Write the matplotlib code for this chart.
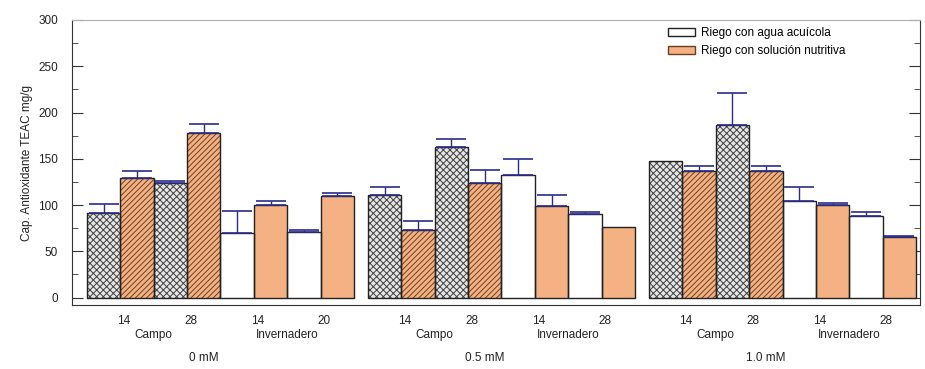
import matplotlib
matplotlib.use("Agg")
import matplotlib.pyplot as plt
from matplotlib.patches import Patch
from matplotlib.ticker import MultipleLocator
import numpy as np

plt.rcParams['font.family'] = ['Liberation Sans', 'DejaVu Sans']
plt.rcParams['hatch.linewidth'] = 0.7

concentrations = ["0 mM", "0.5 mM", "1.0 mM"]
sites = ["Campo", "Invernadero"]
day_labels = [["14", "28", "14", "20"], ["14", "28", "14", "28"], ["14", "28", "14", "28"]]

# per concentration: [Campo14 agua, Campo14 sol, Campo28 agua, Campo28 sol, Inv14 agua, Inv14 sol, Inv2x agua, Inv2x sol]
values = [
    [91, 129, 124, 178, 70, 100, 71, 110],
    [111, 73, 163, 124, 133, 99, 90, 76],
    [148, 137, 187, 137, 104, 100, 88, 66],
]
errors = [
    [10, 8, 2, 10, 24, 4, 2, 3],
    [8, 10, 8, 14, 17, 12, 3, 0],
    [0, 5, 34, 5, 15, 2, 4, 1],
]
y_ticks = [0, 50, 100, 150, 200, 250, 300]
y_label = "Cap. Antioxidante TEAC mg/g"
legend_labels = ["Riego con agua acuícola", "Riego con solución nutritiva"]

orange = "#F4B183"
hatch_orange = "#6b4022"
gray_face = "#e6e6e6"
hatch_gray = "#404040"
err_color = "#2b2b8c"

fig = plt.figure(figsize=(9.25, 3.69), dpi=100)
ax = fig.add_axes([0.0778, 0.1734, 0.9946 - 0.0778, 0.9458 - 0.1734])

gap = 8.42
for g, (vals, errs) in enumerate(zip(values, errors)):
    off = g * gap
    for i, (v, e) in enumerate(zip(vals, errs)):
        x = off + i
        campo = i < 4
        agua = i % 2 == 0
        if campo:
            face = gray_face if agua else orange
            hcol = hatch_gray if agua else hatch_orange
            hatch = "xxxxx" if agua else "//////"
        else:
            face = "white" if agua else orange
            hcol = None
            hatch = None
        ax.bar(x, v, width=1.0, color=face, edgecolor="none", linewidth=0, zorder=2)
        if hatch:
            ax.bar(x, v, width=1.0, color="none", edgecolor=hcol, linewidth=0, hatch=hatch, zorder=3)
        ax.bar(x, v, width=1.0, color="none", edgecolor="#222222", linewidth=1.0, zorder=4)
        if e > 0:
            ax.errorbar(x, v, yerr=[[0], [e]], fmt="none", ecolor=err_color,
                        elinewidth=1.0, capsize=11, capthick=1.2, zorder=5)
    for j, lab in enumerate(day_labels[g]):
        ax.text(off + 0.5 + 2 * j + 0.1, -0.055, lab, transform=ax.get_xaxis_transform(),
                ha="center", va="center", fontsize=8.5, color="#222222")
    ax.text(off + 1.5, -0.105, sites[0], transform=ax.get_xaxis_transform(),
            ha="center", va="center", fontsize=8.5, color="#222222")
    ax.text(off + 5.5, -0.105, sites[1], transform=ax.get_xaxis_transform(),
            ha="center", va="center", fontsize=8.5, color="#222222")
    ax.text(off + 3.0, -0.185, concentrations[g], transform=ax.get_xaxis_transform(),
            ha="center", va="center", fontsize=8.5, color="#222222")

ax.set_xlim(-0.95, 2 * gap + 7.62)
ax.set_ylim(-8, 300)
ax.set_xticks([])
ax.set_yticks(y_ticks)
ax.set_yticklabels([str(t) for t in y_ticks], fontsize=8.5, color="#222222")
ax.yaxis.set_minor_locator(MultipleLocator(25))
ax.tick_params(axis="y", which="both", direction="in", right=True, left=True, color="#333333")
ax.tick_params(axis="y", which="major", length=8, pad=10)
ax.tick_params(axis="y", which="minor", length=4)
ax.set_ylabel(y_label, fontsize=8.5, color="#222222", labelpad=4)

ax.spines["top"].set_color("#b0b0b0")
ax.spines["right"].set_color("#333333")
ax.spines["left"].set_color("#333333")
ax.spines["bottom"].set_color("#333333")

handles = [Patch(facecolor="white", edgecolor="#222222", linewidth=1.0),
           Patch(facecolor=orange, edgecolor=hatch_orange, linewidth=1.0)]
ax.legend(handles, legend_labels, loc="upper right", bbox_to_anchor=(0.92, 1.0), frameon=False,
          fontsize=8.5, handlelength=2.3, handleheight=0.6, handletextpad=0.5,
          labelspacing=0.5, borderaxespad=0.2)

fig.savefig("out.png", dpi=100)
